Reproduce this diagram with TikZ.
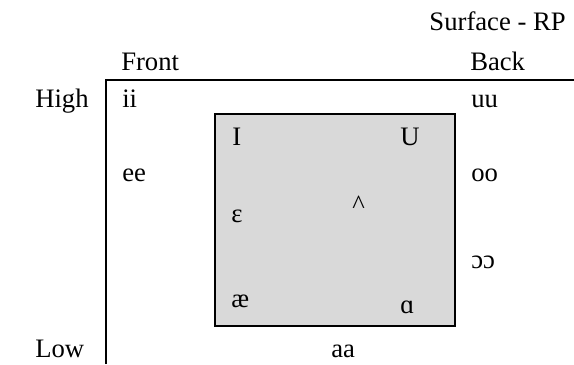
\documentclass[tikz,border=0pt]{standalone}
\usepackage{fontspec}
\setmainfont{Liberation Serif}
\usepackage{tikz}
\definecolor{boxgrey}{HTML}{D9D9D9}
\tikzset{
  lbl/.style={font=\fontsize{20}{24}\selectfont, inner sep=0pt, anchor=base west},
  frameline/.style={line width=1.5pt, draw=black},
  core/.style={draw=black, line width=1.5pt, fill=boxgrey},
}

\begin{document}
\begin{tikzpicture}[x=0.75pt, y=-0.75pt]
\useasboundingbox (0,0) rectangle (574,364);

% chart frame and lax core box
\coordinate (f_bl) at (106,364);
\coordinate (f_tl) at (106,80);
\coordinate (f_tr) at (574,80);
\draw[frameline] (f_bl) -- (f_tl) -- (f_tr);
\draw[core] (215,114) rectangle (455,326);

% headings
\node[lbl, anchor=base east] (c_title) at (566,31) {Surface - RP};
\node[lbl] (c_front) at (121,70) {Front};
\node[lbl] (c_back) at (470,70) {Back};
\node[lbl] (c_high) at (35,107) {High};
\node[lbl] (c_low) at (35,357) {Low};

% tense vowels
\node[lbl] (c_ii) at (122,107) {ii};
\node[lbl] (c_uu) at (471,107) {uu};
\node[lbl] (c_ee) at (122,181) {ee};
\node[lbl] (c_oo) at (471,181) {oo};
\node[lbl] (c_oo2) at (471,268) {ɔɔ};
\node[lbl] (c_aa) at (331,357) {aa};

% lax vowels
\node[lbl] (c_I) at (232,145) {I};
\node[lbl] (c_U) at (400,145) {U};
\node[lbl] (c_eps) at (231,222) {ɛ};
\node[lbl] (c_wedge) at (352,213) {\textasciicircum};
\node[lbl] (c_ae) at (231,307) {æ};
\node[lbl] (c_alpha) at (400,313) {ɑ};

\end{tikzpicture}
\end{document}
